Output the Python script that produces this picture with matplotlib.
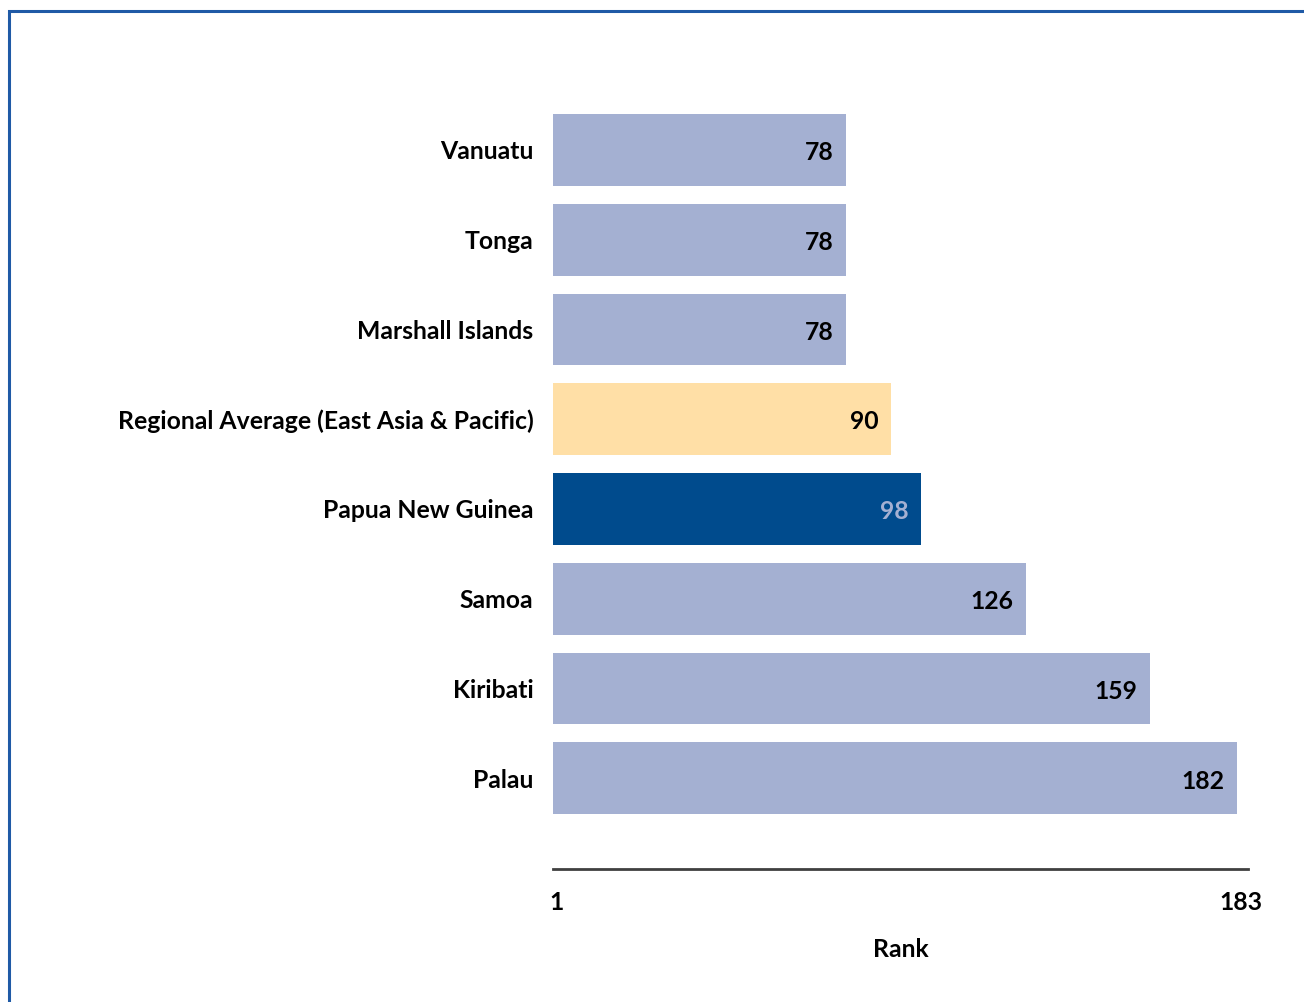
import matplotlib.pyplot as plt
from matplotlib.patches import Rectangle

# data
countries = ["Vanuatu", "Tonga", "Marshall Islands",
             "Regional Average (East Asia & Pacific)", "Papua New Guinea",
             "Samoa", "Kiribati", "Palau"]
ranks = [78, 78, 78, 90, 98, 126, 159, 182]
highlight = {"Regional Average (East Asia & Pacific)": "#ffdfa6",
             "Papua New Guinea": "#004b8d"}
base_color = "#a4b0d2"
rank_min, rank_max = 1, 183

plt.rcParams['font.family'] = ['Lato', 'DejaVu Sans']
plt.rcParams['font.weight'] = 'bold'
FS = 17.8

W, H = 1304, 1002
fig = plt.figure(figsize=(W / 100, H / 100), dpi=100)

# blue frame (left and top visible)
fig.patches.append(Rectangle((9 / W, -0.05), 1.2, (H - 11) / H + 0.05,
                             transform=fig.transFigure, fill=False,
                             edgecolor="#1f5aa6", linewidth=2.2))

ax = fig.add_axes([553 / W, (H - 869) / H, (1248 - 553) / W, (869 - 105) / H])

colors = [highlight.get(c, base_color) for c in countries]
ypos = list(range(len(countries)))
ax.barh(ypos, ranks, height=0.8, color=colors)

for y, v, c in zip(ypos, ranks, countries):
    tc = "#a4b0d2" if c == "Papua New Guinea" else "black"
    ax.text(v - 3.4, y + 0.03, str(v), ha="right", va="center", fontsize=FS,
            fontweight="bold", color=tc)

ax.set_xlim(0, 185)
ax.set_ylim(8.01, -0.5)
ax.set_yticks(ypos)
ax.set_yticklabels(countries, fontsize=FS, fontweight="bold")
ax.tick_params(axis="y", length=0, pad=14)
ax.set_xticks([rank_min, rank_max])
ax.set_xticklabels([str(rank_min), str(rank_max)], fontsize=FS, fontweight="bold")
ax.tick_params(axis="x", length=0, pad=16)
ax.set_xlabel("Rank", fontsize=FS, fontweight="bold", labelpad=17)

for s in ["top", "right", "left"]:
    ax.spines[s].set_visible(False)
ax.spines["bottom"].set_color("#404040")
ax.spines["bottom"].set_linewidth(2)

fig.savefig("out.png", dpi=100)
